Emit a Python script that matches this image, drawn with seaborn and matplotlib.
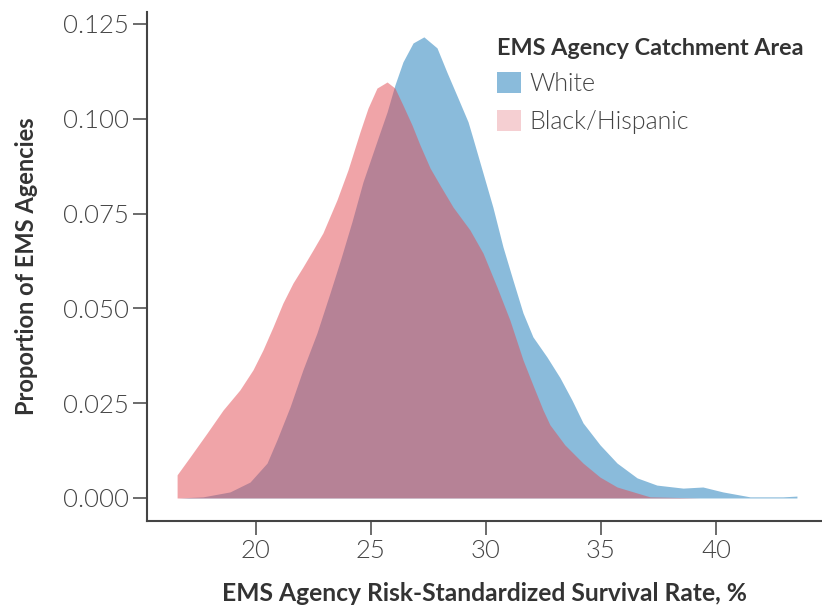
import numpy as np
import pandas as pd
import seaborn as sns
import matplotlib.pyplot as plt
from matplotlib.patches import Patch

# density curves (x = survival rate %, y = proportion)
white_x = [16.61, 17.70, 18.87, 19.74, 20.48, 20.91, 21.48, 22.04, 22.65, 23.22,
           23.70, 24.17, 24.65, 25.35, 25.70, 26.04, 26.39, 26.83, 27.30, 27.87,
           28.30, 28.78, 29.22, 29.43, 29.87, 30.30, 30.74, 31.17, 31.61, 32.04,
           32.65, 33.22, 33.74, 34.22, 34.96, 35.70, 36.57, 37.43, 38.57, 39.43,
           40.30, 41.48, 42.91, 43.52]
white_y = [0.0000, 0.0003, 0.0016, 0.0042, 0.0092, 0.0153, 0.0240, 0.0338, 0.0435, 0.0541,
           0.0633, 0.0728, 0.0833, 0.0957, 0.1018, 0.1089, 0.1150, 0.1200, 0.1216, 0.1187,
           0.1123, 0.1055, 0.0992, 0.0949, 0.0857, 0.0767, 0.0662, 0.0575, 0.0488, 0.0425,
           0.0372, 0.0317, 0.0258, 0.0198, 0.0140, 0.0092, 0.0053, 0.0034, 0.0026, 0.0029,
           0.0016, 0.0003, 0.0003, 0.0005]

black_x = [16.57, 17.13, 17.87, 18.57, 19.30, 19.87, 20.30, 20.74, 21.17, 21.61,
           22.04, 22.48, 22.91, 23.52, 24.00, 24.52, 24.87, 25.26, 25.70, 26.04,
           26.39, 26.78, 27.13, 27.57, 28.00, 28.57, 29.30, 29.87, 30.48, 31.04,
           31.61, 32.04, 32.48, 32.78, 33.43, 34.22, 34.96, 35.70, 37.13, 39.30,
           43.52]
black_y = [0.0061, 0.0108, 0.0171, 0.0232, 0.0285, 0.0338, 0.0390, 0.0451, 0.0514, 0.0567,
           0.0609, 0.0654, 0.0699, 0.0786, 0.0865, 0.0965, 0.1028, 0.1081, 0.1097, 0.1081,
           0.1036, 0.0984, 0.0931, 0.0870, 0.0825, 0.0767, 0.0707, 0.0646, 0.0556, 0.0469,
           0.0364, 0.0298, 0.0232, 0.0193, 0.0140, 0.0092, 0.0055, 0.0029, 0.0003, 0.0000,
           0.0000]

x_ticks = [20, 25, 30, 35, 40]
y_ticks = [0.000, 0.025, 0.050, 0.075, 0.100, 0.125]

white_col = "#8abbdb"
black_col = "#e34a52"
black_legend = "#f5cfd2"
ink = "#444444"

sns.set_style("ticks")
plt.rcParams["font.family"] = ["Lato", "DejaVu Sans"]

df_w = pd.DataFrame({"x": white_x, "y": white_y})
df_b = pd.DataFrame({"x": black_x, "y": black_y})

fig = plt.figure(figsize=(8.22, 6.09), dpi=100)
ax = fig.add_axes([0.1788, 0.1445, 0.8212, 0.8358])

ax.fill_between(df_w["x"], 0, df_w["y"], color=white_col, lw=0, zorder=2)
ax.fill_between(df_b["x"], 0, df_b["y"], color=black_col, alpha=0.5, lw=0, zorder=3)

ax.set_xlim(15.26, 44.61)
ax.set_ylim(-0.00607, 0.12816)
ax.set_xticks(x_ticks)
ax.set_yticks(y_ticks)
ax.set_yticklabels([f"{v:.3f}" for v in y_ticks])

sns.despine(ax=ax)
for s in ["left", "bottom"]:
    ax.spines[s].set_linewidth(1.5)
    ax.spines[s].set_color(ink)
ax.tick_params(axis="both", length=10, width=1.1, color=ink, labelcolor=ink,
               labelsize=18.5, pad=3)
for lab in ax.get_xticklabels() + ax.get_yticklabels():
    lab.set_fontweight(300)

ax.set_xlabel("EMS Agency Risk-Standardized Survival Rate, %", fontsize=17.7,
              fontweight="bold", color="#333333", labelpad=14)
ax.set_ylabel("Proportion of EMS Agencies", fontsize=17, fontweight="bold",
              color="#333333", labelpad=18)

handles = [Patch(facecolor=white_col, edgecolor="none"),
           Patch(facecolor=black_legend, edgecolor="none")]
leg = ax.legend(handles, ["White", "Black/Hispanic"], title="EMS Agency Catchment Area",
                loc="upper left", bbox_to_anchor=(0.496, 0.978), frameon=False,
                fontsize=18, title_fontsize=16.8, handlelength=0.95, handleheight=0.95,
                handletextpad=0.35, labelspacing=0.55, alignment="left",
                borderaxespad=0.2)
leg.get_title().set_fontweight("bold")
leg.get_title().set_color("#333333")
leg._legend_box.sep = 9
for t in leg.get_texts():
    t.set_color(ink)
    t.set_fontweight(300)

fig.savefig("out.png", dpi=100)
